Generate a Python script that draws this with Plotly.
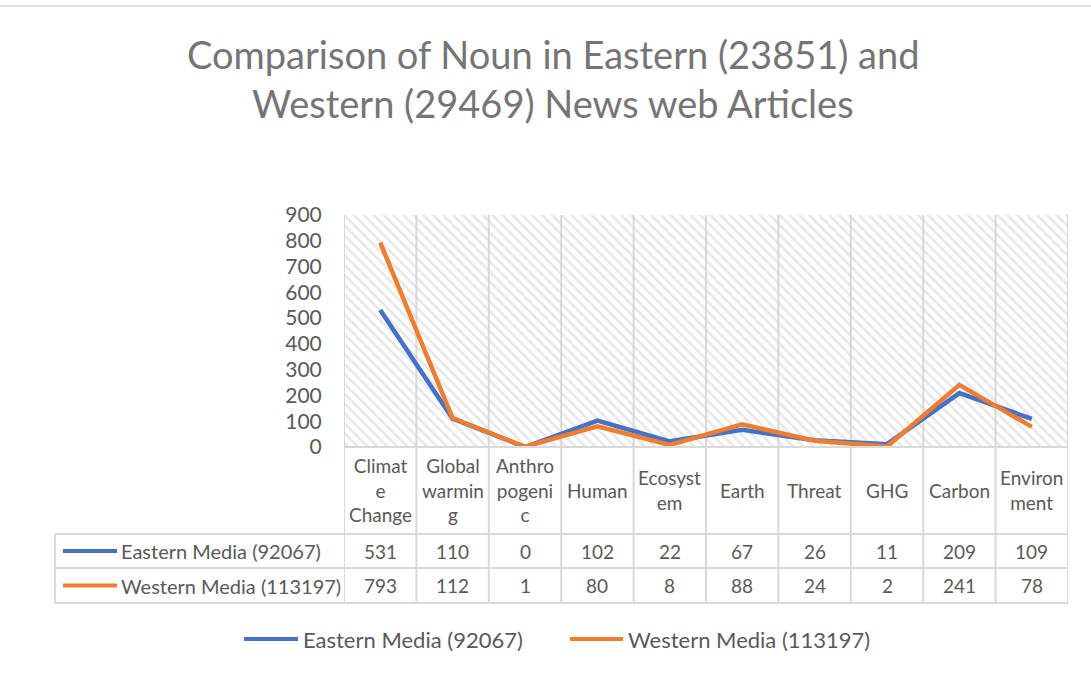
import plotly.graph_objects as go

# data
categories = ["Climate Change", "Global warming", "Anthropogenic", "Human", "Ecosystem",
              "Earth", "Threat", "GHG", "Carbon", "Environment"]
header_labels = ["Climat<br>e<br>Change", "Global<br>warmin<br>g", "Anthro<br>pogeni<br>c", "Human",
                 "Ecosyst<br>em", "Earth", "Threat", "GHG", "Carbon", "Environ<br>ment"]
eastern = [531, 110, 0, 102, 22, 67, 26, 11, 209, 109]
western = [793, 112, 1, 80, 8, 88, 24, 2, 241, 78]
series_names = ["Eastern Media (92067)", "Western Media (113197)"]
colors = ["#4472C4", "#ED7D31"]

FONT = "Lato"
TXT = "#595959"
GRID = "#d9d9d9"

# plot area in pixels
W, H = 1091, 673
L, R, T, B = 344, 1068, 215, 447


def py(v):
    return (B - v) / (B - T)


def pxx(v):
    return (v - L) / (R - L)


xs = list(range(len(categories)))
fig = go.Figure()

# hatched background of plot area
fig.add_trace(go.Scatter(
    x=[-0.5, 9.5, 9.5, -0.5, -0.5], y=[0, 0, 900, 900, 0],
    mode="none", fill="toself", fillcolor="rgba(0,0,0,0)",
    fillpattern=dict(shape="\\", fgcolor="#d2d2d2", bgcolor="rgba(0,0,0,0)", size=7, solidity=0.4),
    hoverinfo="skip", showlegend=False,
))

for name, vals, c in zip(series_names, [eastern, western], colors):
    fig.add_trace(go.Scatter(
        x=xs, y=vals, name=name, mode="lines",
        line=dict(color=c, width=4.5),
        showlegend=False,
        hovertemplate="%{text}: %{y}<extra>" + name + "</extra>",
        text=categories,
    ))

shapes = []
# vertical lines: grid in plot area + table columns
for i in range(len(categories) + 1):
    shapes.append(dict(type="line", xref="x", yref="paper", x0=i - 0.5, x1=i - 0.5,
                       y0=py(T), y1=py(603), line=dict(color=GRID, width=2), layer="below"))
# left box vertical
shapes.append(dict(type="line", xref="paper", yref="paper", x0=pxx(55), x1=pxx(55),
                   y0=py(534), y1=py(603), line=dict(color=GRID, width=2)))
# horizontal lines
shapes.append(dict(type="line", xref="paper", yref="paper", x0=0, x1=1,
                   y0=py(447), y1=py(447), line=dict(color=GRID, width=2)))
for yy in [534, 568, 603]:
    shapes.append(dict(type="line", xref="paper", yref="paper", x0=pxx(55), x1=1,
                       y0=py(yy), y1=py(yy), line=dict(color=GRID, width=2)))
# outer top border
shapes.append(dict(type="line", xref="paper", yref="paper", x0=pxx(0), x1=pxx(W),
                   y0=py(6), y1=py(6), line=dict(color="#d9d9d9", width=1.5)))

annotations = []
# title
annotations.append(dict(text="Comparison of Noun in Eastern (23851) and", xref="paper", yref="paper",
                        x=pxx(553), y=py(54), showarrow=False, xanchor="center", yanchor="middle",
                        font=dict(family=FONT, size=38, color="#757575")))
annotations.append(dict(text="Western (29469) News web Articles", xref="paper", yref="paper",
                        x=pxx(553), y=py(103), showarrow=False, xanchor="center", yanchor="middle",
                        font=dict(family=FONT, size=38, color="#757575")))

# table header
for i, lab in enumerate(header_labels):
    annotations.append(dict(text=lab, xref="x", yref="paper", x=i, y=py(490), showarrow=False,
                            xanchor="center", yanchor="middle",
                            font=dict(family=FONT, size=19, color=TXT)))
# table rows
row_centers = [551, 585.5]
for r, (name, vals, c) in enumerate(zip(series_names, [eastern, western], colors)):
    yc = row_centers[r]
    shapes.append(dict(type="line", xref="paper", yref="paper", x0=pxx(63), x1=pxx(117),
                       y0=py(yc), y1=py(yc), line=dict(color=c, width=4)))
    annotations.append(dict(text=name, xref="paper", yref="paper", x=pxx(119), y=py(yc),
                            showarrow=False, xanchor="left", yanchor="middle",
                            font=dict(family=FONT, size=20, color=TXT)))
    for i, v in enumerate(vals):
        annotations.append(dict(text=str(v), xref="x", yref="paper", x=i, y=py(yc), showarrow=False,
                                xanchor="center", yanchor="middle",
                                font=dict(family=FONT, size=19, color=TXT)))

# bottom legend
for x0, x1, name, c in [(244, 298, series_names[0], colors[0]), (570, 623, series_names[1], colors[1])]:
    shapes.append(dict(type="line", xref="paper", yref="paper", x0=pxx(x0), x1=pxx(x1),
                       y0=py(639), y1=py(639), line=dict(color=c, width=4)))
    annotations.append(dict(text=name, xref="paper", yref="paper", x=pxx(x1 + 3), y=py(639),
                            showarrow=False, xanchor="left", yanchor="middle",
                            font=dict(family=FONT, size=22, color=TXT)))

fig.update_layout(
    width=W, height=H,
    margin=dict(l=L, r=W - R, t=T, b=H - B),
    paper_bgcolor="white", plot_bgcolor="white",
    showlegend=False,
    shapes=shapes, annotations=annotations,
    xaxis=dict(range=[-0.5, 9.5], showgrid=False, zeroline=False, showticklabels=False,
               showline=False, fixedrange=True),
    yaxis=dict(range=[0, 900], dtick=100, showgrid=False, zeroline=False, showline=False,
               ticks="outside", ticklen=17, tickcolor="rgba(0,0,0,0)",
               tickfont=dict(family=FONT, size=21, color=TXT), fixedrange=True),
)

# remove the default page margin so the chart sits at the window's top-left corner
fig.write_html("out.html", config={"displayModeBar": False},
               post_script="document.body.style.margin='0';")
